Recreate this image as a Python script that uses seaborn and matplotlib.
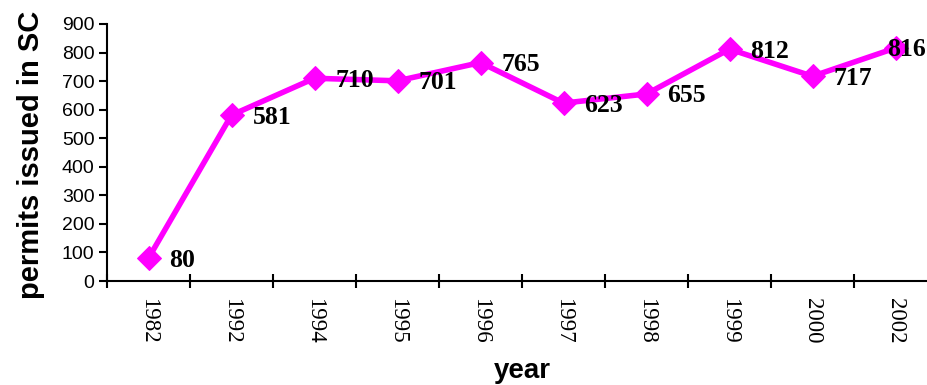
import numpy as np
import pandas as pd
import matplotlib
matplotlib.use("Agg")
import matplotlib.pyplot as plt
import seaborn as sns

years = ["1982", "1992", "1994", "1995", "1996", "1997", "1998", "1999", "2000", "2002"]
permits = [80, 581, 710, 701, 765, 623, 655, 812, 717, 816]
y_ticks = [0, 100, 200, 300, 400, 500, 600, 700, 800, 900]

sns.set_theme(style="white")
plt.rcParams["font.family"] = ["Liberation Sans", "DejaVu Sans"]

df = pd.DataFrame({"pos": np.arange(len(years)), "permits": permits, "year": years})

fig = plt.figure(figsize=(9.27, 3.85), dpi=100)
ax = fig.add_axes([107 / 927, 1 - 281 / 385, 830 / 927, 257 / 385])

sns.lineplot(data=df, x="pos", y="permits", ax=ax, sort=False,
             color="#FF00FF", linewidth=4, marker="D", markersize=12.5,
             markeredgecolor="#FF00FF", clip_on=False)

# value labels beside each point; the last one sits over its marker
label_dx = [21, 21, 21, 21, 21, 21, 21, 21, 21, -8]
for i, v in enumerate(permits):
    ax.annotate(str(v), (i, v), xytext=(label_dx[i], -2), textcoords="offset pixels",
                ha="left", va="center", fontsize=18.5, fontweight="bold",
                family=["Liberation Serif", "DejaVu Serif"], color="black",
                annotation_clip=False)

ax.set_xlim(-0.5, len(years) - 0.5)
ax.set_ylim(0, 900)
ax.set_yticks(y_ticks)
ax.set_yticklabels([str(t) for t in y_ticks], fontsize=14)

ax.set_xticks(np.arange(len(years)))
ax.set_xticklabels(years, rotation=270, fontsize=16.5,
                   family=["Liberation Serif", "DejaVu Serif"])
ax.set_xticks(np.arange(len(years) + 1) - 0.5, minor=True)
ax.tick_params(axis="x", which="major", length=0, pad=12, colors="black")
ax.tick_params(axis="x", which="minor", direction="inout", length=10, width=1.5,
               color="black", bottom=True)
ax.tick_params(axis="y", which="major", direction="out", length=6, width=1.5,
               color="black", left=True, pad=3, labelcolor="black")

for side in ["top", "right"]:
    ax.spines[side].set_visible(False)
for side in ["left", "bottom"]:
    ax.spines[side].set_color("black")
    ax.spines[side].set_linewidth(1.5)

ax.set_xlabel("year", fontsize=20, fontweight="bold", color="black")
ax.set_ylabel("permits issued in SC", fontsize=21, fontweight="bold", color="black")
ax.xaxis.set_label_coords(0.5, -0.30)
ax.yaxis.set_label_coords(-0.075, 0.49)

fig.savefig("out.png", dpi=100)
